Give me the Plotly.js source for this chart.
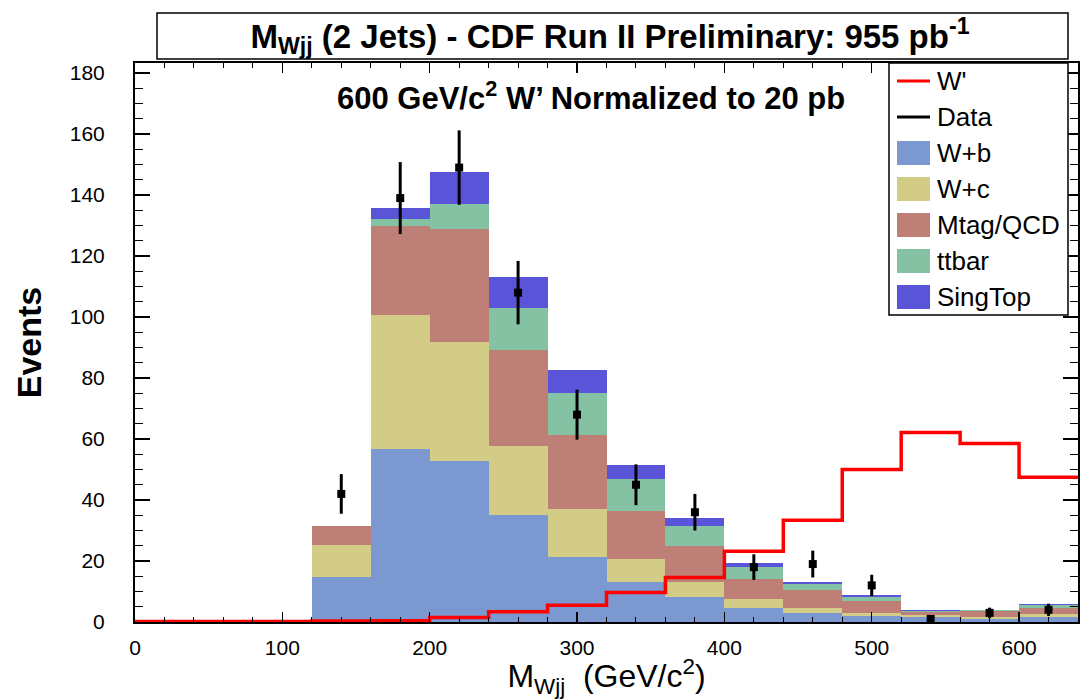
<!DOCTYPE html>
<html>
<head>
<meta charset="utf-8">
<script src="https://cdn.plot.ly/plotly-3.0.1.min.js"></script>
<style>html,body{margin:0;padding:0;background:#fff;}#chart{width:1082px;height:699px;}</style>
</head>
<body>
<div id="chart"></div>
<script>
// ---- data ----
const binEdges = [0,40,80,120,160,200,240,280,320,360,400,440,480,520,560,600,640];
const wPlusB   = [0,0,0,14.7,56.8,52.7,35.0,21.4,13.2,8.1,4.7,2.8,2.0,1.5,1.0,1.5];
const wPlusC   = [0,0,0,10.5,43.9,39.0,22.8,15.8,7.6,5.1,2.7,1.7,0.8,0.8,0.5,1.0];
const mtagQCD  = [0,0,0,6.2,29.2,37.3,31.4,24.0,15.5,11.8,6.7,6.0,4.2,1.1,2.2,2.1];
const ttbar    = [0,0,0,0,2.2,8.0,13.8,14.0,10.5,6.5,4.0,1.9,1.3,0.3,0.2,0.9];
const singTop  = [0,0,0,0,3.5,10.4,10.2,7.3,4.6,2.6,1.4,0.8,0.5,0.4,0.2,0.4];
const wPrime   = [0.2,0.2,0.2,0.3,0.4,1.5,3.4,5.5,9.7,14.6,23.2,33.4,50.0,62.1,58.5,47.5];
const dataEvents = [null,null,null,42,139,149,108,68,45,36,18,19,12,1,3,4];
const dataErrors = [null,null,null,6.5,11.8,12.2,10.4,8.2,6.7,6.0,4.2,4.4,3.5,1.0,1.7,2.0];
const stackNames = ["W+b","W+c","Mtag/QCD","ttbar","SingTop"];
const legendNames = ["W'","Data","W+b","W+c","Mtag/QCD","ttbar","SingTop"];
const xTickVals = [0,100,200,300,400,500,600];
const yTickVals = [0,20,40,60,80,100,120,140,160,180];

// ---- styles ----
const stackColors = ["#7b98d0","#d2cc86","#be7f76","#85c2a3","#5a54d8"];
const FONT = "Liberation Sans, Arial, Helvetica, sans-serif";

const centers = binEdges.slice(0,-1).map((e,i)=>(e+binEdges[i+1])/2);
const widths = binEdges.slice(0,-1).map((e,i)=>binEdges[i+1]-e);

const stackVals = [wPlusB,wPlusC,mtagQCD,ttbar,singTop];
const traces = stackVals.map((vals,k)=>({
  type:'bar', x:centers, y:vals, width:widths, name:stackNames[k],
  marker:{color:stackColors[k], line:{width:0}}, showlegend:false, hoverinfo:'skip'
}));

traces.push({
  type:'scatter', mode:'lines', name:"W'",
  x:binEdges, y:wPrime.concat([wPrime[wPrime.length-1]]),
  line:{color:'#ff0000', width:3.5, shape:'hv'}, showlegend:false
});

traces.push({
  type:'scatter', mode:'markers', name:'Data',
  x:centers, y:dataEvents,
  marker:{symbol:'square', size:8, color:'#000'},
  error_y:{type:'data', array:dataErrors, visible:true, thickness:3, width:0, color:'#000'},
  showlegend:false
});

// pixel helpers for layout placement (plot area 135..1078 x 63..622)
const L=135, R=1078, T=63, B=622;
const px = x => (x-L)/(R-L);
const py = y => (B-y)/(B-T);

const shapes = [];
const annotations = [];

// title box
shapes.push({type:'rect', xref:'paper', yref:'paper', x0:px(157), x1:px(1068), y0:py(59), y1:py(13),
  line:{color:'#000', width:1.5}, fillcolor:'rgba(0,0,0,0)'});

// legend box
shapes.push({type:'rect', xref:'paper', yref:'paper', x0:px(889), x1:px(1068), y0:py(315), y1:py(63),
  line:{color:'#000', width:1.5}, fillcolor:'#fff', layer:'above'});
const legendColors = ['#ff0000','#000'].concat(stackColors);
legendNames.forEach((name,i)=>{
  const yc = 81 + 36*i;
  if (i < 2) {
    shapes.push({type:'line', xref:'paper', yref:'paper', x0:px(897), x1:px(930), y0:py(yc), y1:py(yc),
      line:{color:legendColors[i], width:3}, layer:'above'});
  } else {
    shapes.push({type:'rect', xref:'paper', yref:'paper', x0:px(897), x1:px(930), y0:py(yc+12), y1:py(yc-12),
      line:{width:0}, fillcolor:legendColors[i], layer:'above'});
  }
  annotations.push({xref:'paper', yref:'paper', x:px(935), y:py(yc), xanchor:'left', yanchor:'middle',
    text:name, showarrow:false, font:{family:FONT, size:26, color:'#000'}});
});

// inner label
annotations.push({xref:'paper', yref:'paper', x:px(591), y:py(96), xanchor:'center', yanchor:'middle',
  text:"<b>600 GeV/c<sup>2</sup> W’ Normalized to 20 pb</b>", showarrow:false,
  font:{family:FONT, size:31, color:'#000'}});

const layout = {
  width:1082, height:699,
  margin:{l:L, r:1082-R, t:T, b:699-B},
  paper_bgcolor:'#fff', plot_bgcolor:'#fff',
  barmode:'stack', bargap:0,
  showlegend:false,
  font:{family:FONT, color:'#000'},
  title:{text:"<b>M<sub>Wjj</sub> (2 Jets) - CDF Run II Preliminary: 955 pb<sup>-1</sup></b>",
    xref:'container', yref:'container', x:610/1082, y:1-36/699, xanchor:'center', yanchor:'middle',
    font:{family:FONT, size:33, color:'#000'}},
  xaxis:{range:[0,640], tickmode:'array', tickvals:xTickVals, ticks:'inside', ticklen:10, tickwidth:1.5,
    tickcolor:'#000', minor:{dtick:20, tick0:0, ticklen:5, tickwidth:1, tickcolor:'#000', ticks:'inside'},
    showline:true, linewidth:2, linecolor:'#000', mirror:'ticks', showgrid:false, zeroline:false,
    tickfont:{family:FONT, size:21}, ticklabelstandoff:6,
    title:{text:"M<sub>Wjj</sub>  (GeV/c<sup>2</sup>)", font:{family:FONT, size:32}, standoff:4},
    automargin:false},
  yaxis:{range:[0,183.3], tickmode:'array', tickvals:yTickVals, ticks:'inside', ticklen:15, tickwidth:1.5,
    tickcolor:'#000', minor:{dtick:5, tick0:0, ticklen:8, tickwidth:1, tickcolor:'#000', ticks:'inside'},
    showline:true, linewidth:2, linecolor:'#000', mirror:'ticks', showgrid:false, zeroline:false,
    tickfont:{family:FONT, size:21}, ticklabelstandoff:24,
    title:{text:"<b>Events</b>", font:{family:FONT, size:34}, standoff:18},
    automargin:false},
  shapes:shapes,
  annotations:annotations
};

Plotly.newPlot('chart', traces, layout, {staticPlot:true, displayModeBar:false});
</script>
</body>
</html>
